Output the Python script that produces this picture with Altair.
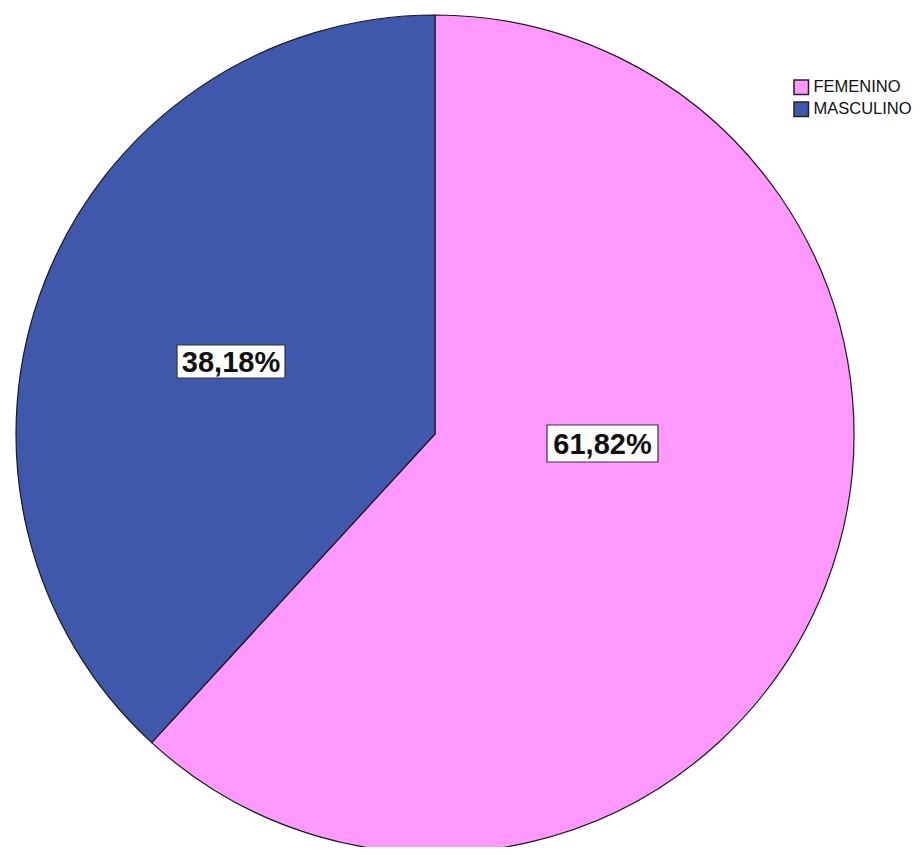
import altair as alt
import pandas as pd

categories = ["FEMENINO", "MASCULINO"]
percents = [61.82, 38.18]
labels = ["61,82%", "38,18%"]
colors = ["#FF99FF", "#3F58AB"]

df = pd.DataFrame({"sexo": categories, "pct": percents, "label": labels,
                   "order": [0, 1]})

W, H = 908, 839
CX, CY, R = 427, 426, 419

color_scale = alt.Scale(domain=categories, range=colors)

pie = alt.Chart(df).mark_arc(stroke="#1a1a1a", strokeWidth=1.2, radius=R).encode(
    theta=alt.Theta("pct:Q", stack=True),
    order=alt.Order("order:Q"),
    color=alt.Color("sexo:N", scale=color_scale, title=None,
                    legend=alt.Legend(orient="none", legendX=785, legendY=71,
                                      symbolType="square", symbolSize=210,
                                      symbolStrokeColor="#222", symbolStrokeWidth=1.5,
                                      symbolOpacity=1,
                                      labelFont="Liberation Sans", labelFontSize=16.5,
                                      labelColor="#111", labelOffset=4,
                                      rowPadding=1, padding=0)),
    x=alt.value(CX),
    y=alt.value(CY),
)

def box(sel, x1, x2, y1, y2):
    base = alt.Chart(df).transform_filter(alt.datum.sexo == sel)
    rect = base.mark_rect(fill="white", stroke="#333", strokeWidth=1.2).encode(
        x=alt.value(x1), x2=alt.value(x2), y=alt.value(y1), y2=alt.value(y2))
    txt = base.mark_text(font="Liberation Sans", fontSize=29, fontWeight="bold",
                         align="center", baseline="middle", color="#111").encode(
        text="label:N", x=alt.value((x1 + x2) / 2), y=alt.value((y1 + y2) / 2 + 1))
    return rect + txt

chart = alt.layer(
    pie,
    box("MASCULINO", 169, 277, 337, 370),
    box("FEMENINO", 539, 650, 417, 454),
).properties(width=W, height=H, autosize=alt.AutoSizeParams(type="none"), padding=0
).configure_view(stroke=None)

chart.save("out.html", embed_options={"renderer": "svg", "actions": False})
